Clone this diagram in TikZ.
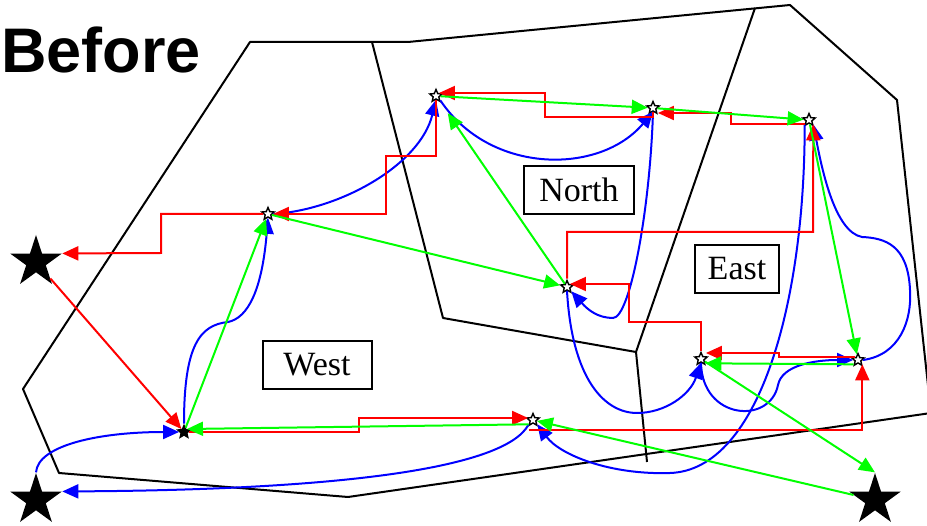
\documentclass[tikz,border=0pt]{standalone}
\usepackage{fontspec}
\setmainfont{Liberation Serif}
\newfontfamily\titlefont{Liberation Sans}
\usetikzlibrary{shapes.geometric,arrows.meta}

\begin{document}
\begin{tikzpicture}[x=1pt,y=-1pt,
  wall/.style={line width=2pt, line join=round},
  hub/.style={star, star points=5, star point ratio=2.618, minimum size=54pt, inner sep=0pt, fill=black},
  site/.style={star, star points=5, star point ratio=2.2, minimum size=13pt, inner sep=0pt, draw, fill=white, line width=1.4pt},
  zone/.style={draw, line width=2pt, minimum height=48pt, inner sep=0pt, font=\fontsize{34}{40}\selectfont},
  tip/.style={-{Triangle[length=16pt,width=14pt]}},
  rline/.style={tip, red, line width=2pt},
  gline/.style={tip, green, line width=2pt},
  bline/.style={tip, blue, line width=2pt}]
\useasboundingbox (0,0) rectangle (927,526);
\clip (0,0) rectangle (927,526);

% regions
\draw[wall] (250,42) -- (408,42) -- (790,5) -- (897,100) -- (931,413) -- (348,497) -- (59,473) -- (23,389) -- cycle;
\draw[wall] (372,42) -- (443,318) -- (636,352) -- (647,462);
\draw[wall] (755,8) -- (636,352);

\node[anchor=base west, inner sep=0pt, font=\titlefont\bfseries\fontsize{63}{70}\selectfont] (title) at (1,73) {Before};

\node[zone, minimum width=110pt] (north) at (579,190) {North};
\node[zone, minimum width=84pt] (east) at (737,269) {East};
\node[zone, minimum width=109pt] (west) at (317,365) {West};

% depots
\node[hub] (S1) at (36,262) {};
\node[hub] (S2) at (36,500) {};
\node[hub] (S3) at (875,500) {};

% sites
\node[site] (A) at (436,96) {};
\node[site] (B) at (653,108) {};
\node[site] (C) at (809,120) {};
\node[site] (D) at (268,214) {};
\node[site] (E) at (567,287) {};
\node[site] (F) at (701,359) {};
\node[site] (G) at (858,360) {};
\node[site] (H) at (533,420) {};
\node[site, fill=black] (I) at (184,432) {};

% blue tour
\draw[bline] (S2.outer point 1) .. controls (38,445) and (100,432) .. (I.west);
\draw[bline] (I.north) .. controls (184,345) and (200,325) .. (228,322) .. controls (248,318) and (262,290) .. (D.south);
\draw[bline] (D.east) .. controls (340,210) and (420,165) .. (A.south);
\draw[bline] (A.south east) .. controls (490,175) and (600,175) .. (B.south);
\draw[bline] (B.south) .. controls (650,210) and (630,318) .. (613,318) .. controls (598,318) and (588,310) .. (E.south east);
\draw[bline] (E.south) .. controls (572,380) and (605,413) .. (637,413) .. controls (665,413) and (690,395) .. (F.south);
\draw[bline] (F.south) .. controls (702,420) and (770,425) .. (778,385) .. controls (782,365) and (815,360) .. (G.west);
\draw[bline] (G.east) .. controls (900,355) and (912,320) .. (910,290) .. controls (908,245) and (885,238) .. (862,237) .. controls (835,232) and (822,170) .. (C.south east);
\draw[bline] (C.south west) .. controls (805,300) and (760,470) .. (670,473) .. controls (610,475) and (560,455) .. (H.south east);
\draw[bline] (H.south west) .. controls (505,470) and (330,490) .. (S2.outer point 5);

% red tour
\draw[rline] (S1) -- (I);
\draw[rline] (I.east) -| (359,418) -- (H.west |- 0,418);
\draw[rline] (H.south west |- 0,430) -| (G.south east);
\draw[rline] (G.north west) -| (779,353) -- (F.east |- 0,353);
\draw[rline] (F.north) |- (629,322) |- (E.north east);
\draw[rline] (E.north) |- (813,232) -- (C.south east);
\draw[rline] (C.south west) -| (731,113) -- (B.east |- 0,113);
\draw[rline] (B.south) |- (545,117) |- (A.north east);
\draw[rline] (A.south) |- (386,156) |- (D.east);
\draw[rline] (D.west) -| (161,253) -- (S1.outer point 5);

% green tour
\draw[gline] (S3) -- (H);
\draw[gline] (H.south west) -- (I.north east);
\draw[gline] (I) -- (D);
\draw[gline] (D) -- (E);
\draw[gline, shorten >=13pt] (E) -- (A);
\draw[gline] (A) -- (B);
\draw[gline] (B) -- (C);
\draw[gline] (C) -- (G);
\draw[gline] (G.south west) -- (F.south east);
\draw[gline] (F) -- (S3.outer point 1);
\end{tikzpicture}
\end{document}
